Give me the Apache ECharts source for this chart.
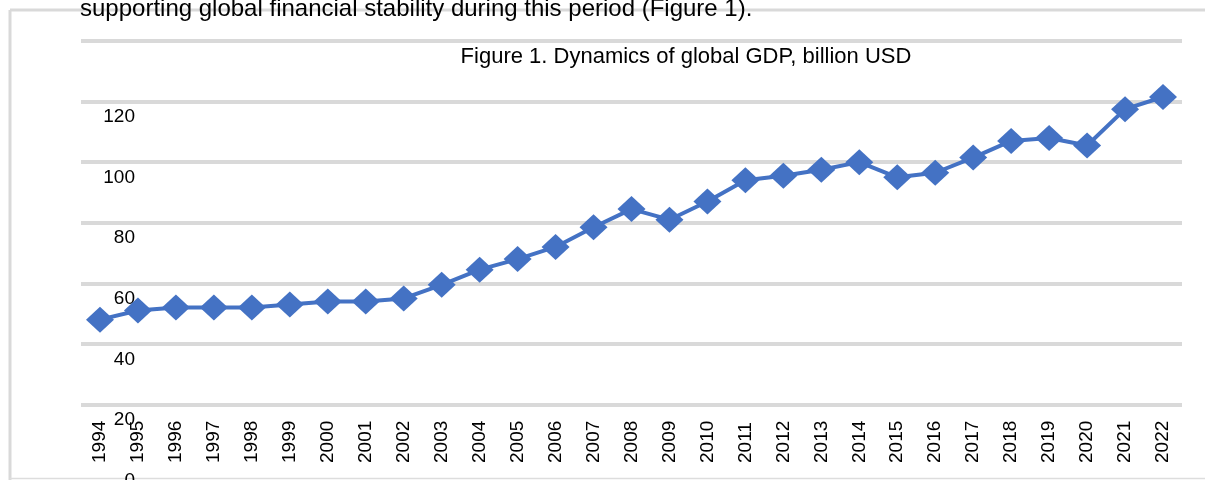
<!DOCTYPE html>
<html>
<head>
<meta charset="utf-8">
<script src="https://cdn.jsdelivr.net/npm/echarts@6/dist/echarts.min.js"></script>
<style>
html,body{margin:0;padding:0;background:#fff;}
#chart{width:1205px;height:480px;}
</style>
</head>
<body>
<div id="chart"></div>
<script>
const years = ['1994','1995','1996','1997','1998','1999','2000','2001','2002','2003','2004','2005','2006','2007','2008','2009','2010','2011','2012','2013','2014','2015','2016','2017','2018','2019','2020','2021','2022'];
const gdp = [48,51,52,52,52,53,54,54,55,59.5,64.5,68,72,78.5,84.5,81,87,94,95.5,97.5,100,95,96.5,101.5,107,108,105.5,117.5,121.5];
const titleText = 'Figure 1. Dynamics of global GDP, billion USD';
const topText = 'supporting global financial stability during this period (Figure 1).';
const yMin = 0, yMax = 140, yStep = 20;

const chart = echarts.init(document.getElementById('chart'), null, {renderer:'canvas'});
const FONT = "'Liberation Sans', Arial, sans-serif";
chart.setOption({
  animation: false,
  backgroundColor: '#fff',
  grid: {left: 81, right: 23, top: 41, bottom: 15, containLabel: false, outerBoundsMode: 'none'},
  graphic: [
    {type:'line', shape:{x1:10, y1:10, x2:1205, y2:10}, style:{stroke:'#d9d9d9', lineWidth:3}, z:-1},
    {type:'line', shape:{x1:10, y1:10, x2:10, y2:480}, style:{stroke:'#d9d9d9', lineWidth:3}, z:-1},
    {type:'line', shape:{x1:10, y1:478.5, x2:1205, y2:478.5}, style:{stroke:'#dddddd', lineWidth:1.5}, z:-1},
    {type:'text', x:80, y:9, style:{text:topText, font:"24px 'Liberation Sans', Arial, sans-serif", fill:'#000', textVerticalAlign:'middle'}, z:5},
    {type:'text', x:686, y:57, style:{text:titleText, font:"22px 'Liberation Sans', Arial, sans-serif", fill:'#000', textAlign:'center', textVerticalAlign:'middle'}, z:5}
  ],
  xAxis: {
    type:'category',
    data: years,
    boundaryGap: true,
    axisLine:{show:false},
    axisTick:{show:false},
    axisLabel:{
      interval:0, rotate:90, margin:-2, align:'left', verticalAlign:'middle',
      color:'#000', fontSize:19, fontFamily:FONT
    },
    splitLine:{show:false}
  },
  yAxis: {
    type:'value',
    min:yMin, max:yMax, interval:yStep,
    axisLine:{show:false},
    axisTick:{show:false},
    axisLabel:{
      margin:-54, align:'right', verticalAlign:'top', padding:[6,0,0,0],
      color:'#000', fontSize:19, fontFamily:FONT,
      formatter: v => v === yMax ? '' : String(v)
    },
    splitLine:{show:true, lineStyle:{color:['rgba(0,0,0,0)','#d9d9d9','#d9d9d9','#d9d9d9','#d9d9d9','#d9d9d9','#d9d9d9','#d9d9d9'], width:4}}
  },
  series: [{
    type:'line',
    data: gdp,
    symbol:'diamond',
    symbolSize:[28,26],
    itemStyle:{color:'#4472C4'},
    lineStyle:{color:'#4472C4', width:4},
    z:3
  }]
});
</script>
</body>
</html>
